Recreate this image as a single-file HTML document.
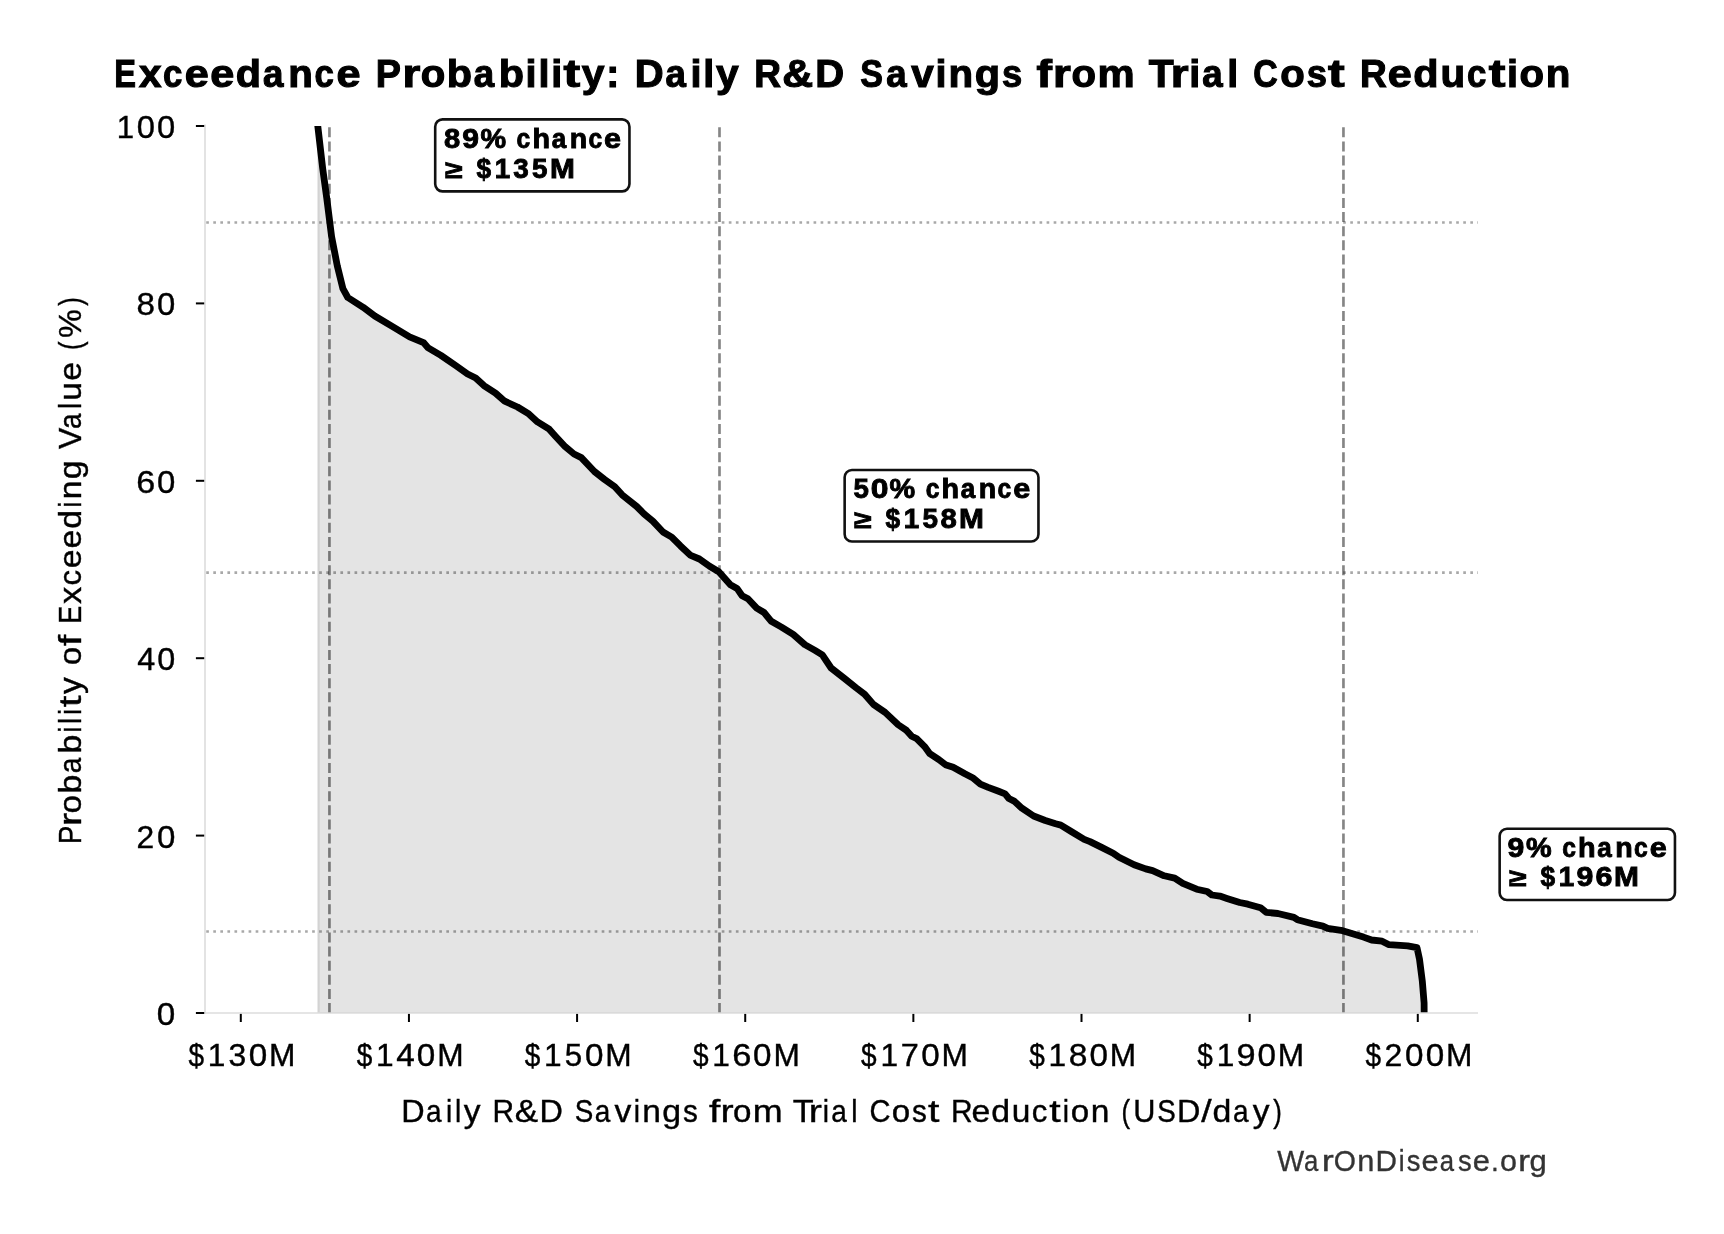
<!DOCTYPE html><html><head><meta charset="utf-8"><style>html,body{margin:0;padding:0;background:#fff;width:1724px;height:1234px;overflow:hidden}svg{display:block;will-change:transform}text{font-family:"Liberation Sans",sans-serif;white-space:pre}</style></head><body>
<svg width="1724" height="1234" viewBox="0 0 1724 1234">
<defs><clipPath id="ax"><rect x="205" y="126" width="1273" height="887"/></clipPath></defs>
<g clip-path="url(#ax)">
<path d="M318.6 1013 L318.6 124 L322.7 168.6 L326.7 197.8 L331.6 236.7 L337.3 265.9 L342.9 288.6 L347.8 297.5 L363.2 307.3 L374.8 316 L392.2 326.4 L409.6 336.8 L423.5 342.6 L428.2 347.9 L440.9 355.4 L456 365.8 L467.6 374 L475.7 378 L483.9 385.6 L495.5 393.1 L504.7 401.2 L517.5 407 L528.8 413.9 L537.5 421.9 L549.2 429.2 L555 435.7 L565.2 446.7 L574 454 L581.3 457.6 L594.4 471.5 L604.6 479.5 L614.8 486.8 L622.1 494.8 L636.7 506.5 L644 513.8 L652.8 521.1 L663 532 L671.7 537.1 L680.5 545.9 L690.7 555.4 L699.4 559 L709.6 566.3 L718.8 571.7 L730.4 584.8 L737 588.4 L742.1 595.7 L747.9 598.7 L756.7 608.1 L764 612.5 L771.3 621.3 L781.5 627.1 L793.2 634.4 L804.8 644.6 L815 650.4 L822.3 654.8 L831.1 668 L844.2 678.2 L855.9 687.6 L864.6 694.2 L873.4 704.4 L885.1 712.4 L898.2 724.8 L906.5 730.4 L911.7 736.2 L916.9 738.8 L924.6 746.6 L929.8 753.7 L938.9 759.6 L945.4 764.7 L953.2 767.3 L964.9 773.8 L972.6 777.7 L980.4 784.2 L988.2 787.4 L998.6 791.3 L1005.1 793.9 L1008.9 798.5 L1014.1 801.1 L1021.9 808.2 L1033.6 816 L1045.3 820.5 L1055.6 823.8 L1060.8 825.1 L1071.2 831.5 L1084.2 839.3 L1090 841.6 L1101.6 847.4 L1113.2 853.2 L1119 857.3 L1134.1 864.8 L1145.7 868.9 L1152.6 870.6 L1164.2 875.8 L1174.7 878.1 L1182.8 883.4 L1196.7 889.2 L1207.2 891.5 L1211.8 895 L1219.9 896.1 L1226.9 898.4 L1239.7 902.5 L1247.8 904.2 L1260.5 907.7 L1266.3 912.4 L1277.9 913.5 L1293.9 917.4 L1297.4 919.7 L1312.5 923.8 L1322.9 926.1 L1327.6 928.4 L1342.6 930.7 L1363.5 937.1 L1371.6 940 L1382.1 941.2 L1389 944.7 L1407.6 945.8 L1417 947.6 L1419.5 959.2 L1422.3 981.1 L1424.1 1003 L1424.2 1013Z" fill="#e4e4e4" stroke="#d3d3d3" stroke-width="2.2"/>
<line x1="205" y1="222.5" x2="1478" y2="222.5" stroke="rgba(0,0,0,0.34)" stroke-width="2.67" stroke-dasharray="2.67 4.392" stroke-dashoffset="5.85"/>
<line x1="205" y1="572.6" x2="1478" y2="572.6" stroke="rgba(0,0,0,0.34)" stroke-width="2.67" stroke-dasharray="2.67 4.392" stroke-dashoffset="5.85"/>
<line x1="205" y1="931.5" x2="1478" y2="931.5" stroke="rgba(0,0,0,0.34)" stroke-width="2.67" stroke-dasharray="2.67 4.392" stroke-dashoffset="5.85"/>
<line x1="329.45" y1="1013" x2="329.45" y2="126" stroke="rgba(0,0,0,0.48)" stroke-width="2.67" stroke-dasharray="9.95 4.175"/>
<line x1="719.5" y1="1013" x2="719.5" y2="126" stroke="rgba(0,0,0,0.48)" stroke-width="2.67" stroke-dasharray="9.95 4.175"/>
<line x1="1343.45" y1="1013" x2="1343.45" y2="126" stroke="rgba(0,0,0,0.48)" stroke-width="2.67" stroke-dasharray="9.95 4.175"/>
<path d="M316.9 118 L317.8 126.2 L322.7 168.6 L326.7 197.8 L331.6 236.7 L337.3 265.9 L342.9 288.6 L347.8 297.5 L363.2 307.3 L374.8 316 L392.2 326.4 L409.6 336.8 L423.5 342.6 L428.2 347.9 L440.9 355.4 L456 365.8 L467.6 374 L475.7 378 L483.9 385.6 L495.5 393.1 L504.7 401.2 L517.5 407 L528.8 413.9 L537.5 421.9 L549.2 429.2 L555 435.7 L565.2 446.7 L574 454 L581.3 457.6 L594.4 471.5 L604.6 479.5 L614.8 486.8 L622.1 494.8 L636.7 506.5 L644 513.8 L652.8 521.1 L663 532 L671.7 537.1 L680.5 545.9 L690.7 555.4 L699.4 559 L709.6 566.3 L718.8 571.7 L730.4 584.8 L737 588.4 L742.1 595.7 L747.9 598.7 L756.7 608.1 L764 612.5 L771.3 621.3 L781.5 627.1 L793.2 634.4 L804.8 644.6 L815 650.4 L822.3 654.8 L831.1 668 L844.2 678.2 L855.9 687.6 L864.6 694.2 L873.4 704.4 L885.1 712.4 L898.2 724.8 L906.5 730.4 L911.7 736.2 L916.9 738.8 L924.6 746.6 L929.8 753.7 L938.9 759.6 L945.4 764.7 L953.2 767.3 L964.9 773.8 L972.6 777.7 L980.4 784.2 L988.2 787.4 L998.6 791.3 L1005.1 793.9 L1008.9 798.5 L1014.1 801.1 L1021.9 808.2 L1033.6 816 L1045.3 820.5 L1055.6 823.8 L1060.8 825.1 L1071.2 831.5 L1084.2 839.3 L1090 841.6 L1101.6 847.4 L1113.2 853.2 L1119 857.3 L1134.1 864.8 L1145.7 868.9 L1152.6 870.6 L1164.2 875.8 L1174.7 878.1 L1182.8 883.4 L1196.7 889.2 L1207.2 891.5 L1211.8 895 L1219.9 896.1 L1226.9 898.4 L1239.7 902.5 L1247.8 904.2 L1260.5 907.7 L1266.3 912.4 L1277.9 913.5 L1293.9 917.4 L1297.4 919.7 L1312.5 923.8 L1322.9 926.1 L1327.6 928.4 L1342.6 930.7 L1363.5 937.1 L1371.6 940 L1382.1 941.2 L1389 944.7 L1407.6 945.8 L1417 947.6 L1419.5 959.2 L1422.3 981.1 L1424.1 1003 L1424.2 1020" fill="none" stroke="#000" stroke-width="6.8" stroke-linejoin="round" stroke-linecap="butt"/>
</g>
<line x1="205" y1="124.5" x2="205" y2="1013.8" stroke="#dcdcdc" stroke-width="1.6"/>
<line x1="204.2" y1="1013" x2="1478" y2="1013" stroke="#dcdcdc" stroke-width="1.6"/>
<line x1="195.9" y1="1013" x2="204.2" y2="1013" stroke="#000" stroke-width="2"/>
<line x1="195.9" y1="835.6" x2="204.2" y2="835.6" stroke="#000" stroke-width="2"/>
<line x1="195.9" y1="658.2" x2="204.2" y2="658.2" stroke="#000" stroke-width="2"/>
<line x1="195.9" y1="480.8" x2="204.2" y2="480.8" stroke="#000" stroke-width="2"/>
<line x1="195.9" y1="303.4" x2="204.2" y2="303.4" stroke="#000" stroke-width="2"/>
<line x1="195.9" y1="126" x2="204.2" y2="126" stroke="#000" stroke-width="2"/>
<line x1="240.8" y1="1013.9" x2="240.8" y2="1022" stroke="#000" stroke-width="2"/>
<line x1="408.94" y1="1013.9" x2="408.94" y2="1022" stroke="#000" stroke-width="2"/>
<line x1="577.08" y1="1013.9" x2="577.08" y2="1022" stroke="#000" stroke-width="2"/>
<line x1="745.22" y1="1013.9" x2="745.22" y2="1022" stroke="#000" stroke-width="2"/>
<line x1="913.36" y1="1013.9" x2="913.36" y2="1022" stroke="#000" stroke-width="2"/>
<line x1="1081.5" y1="1013.9" x2="1081.5" y2="1022" stroke="#000" stroke-width="2"/>
<line x1="1249.64" y1="1013.9" x2="1249.64" y2="1022" stroke="#000" stroke-width="2"/>
<line x1="1417.78" y1="1013.9" x2="1417.78" y2="1022" stroke="#000" stroke-width="2"/>
<rect x="435.2" y="119.4" width="194.25" height="71.95" rx="7.3" ry="7.3" fill="#fff" stroke="#111" stroke-width="2.6"/>
<rect x="844.65" y="470.05" width="193.8" height="71.5" rx="7.3" ry="7.3" fill="#fff" stroke="#111" stroke-width="2.6"/>
<rect x="1499.65" y="828.75" width="175.3" height="71.3" rx="7.3" ry="7.3" fill="#fff" stroke="#111" stroke-width="2.6"/>
<text transform="translate(114.37 86.95) scale(0.8439 1)" font-size="38.6" font-weight="bold" fill="#000" stroke="#000" stroke-width="1.1">E</text><text transform="translate(138.95 86.95) scale(1.0463 1)" font-size="38.6" font-weight="bold" fill="#000" stroke="#000" stroke-width="1.1">x</text><text transform="translate(163.03 86.95) scale(0.9007 1)" font-size="38.6" font-weight="bold" fill="#000" stroke="#000" stroke-width="1.1">c</text><text transform="translate(184.87 86.95) scale(1.1185 1)" font-size="38.6" font-weight="bold" fill="#000" stroke="#000" stroke-width="1.1">e</text><text transform="translate(210.24 86.95) scale(1.1185 1)" font-size="38.6" font-weight="bold" fill="#000" stroke="#000" stroke-width="1.1">e</text><text transform="translate(235.67 86.95) scale(1.0719 1)" font-size="38.6" font-weight="bold" fill="#000" stroke="#000" stroke-width="1.1">d</text><text transform="translate(262.98 86.95) scale(0.9518 1)" font-size="38.6" font-weight="bold" fill="#000" stroke="#000" stroke-width="1.1">a</text><text transform="translate(288.17 86.95) scale(1.0441 1)" font-size="38.6" font-weight="bold" fill="#000" stroke="#000" stroke-width="1.1">n</text><text transform="translate(314.56 86.95) scale(0.9007 1)" font-size="38.6" font-weight="bold" fill="#000" stroke="#000" stroke-width="1.1">c</text><text transform="translate(336.4 86.95) scale(1.1185 1)" font-size="38.6" font-weight="bold" fill="#000" stroke="#000" stroke-width="1.1">e</text><text transform="translate(375.78 86.95) scale(0.9770 1)" font-size="38.6" font-weight="bold" fill="#000" stroke="#000" stroke-width="1.1">P</text><text transform="translate(402.4 86.95) scale(1.1850 1)" font-size="38.6" font-weight="bold" fill="#000" stroke="#000" stroke-width="1.1">r</text><text transform="translate(420.76 86.95) scale(1.0397 1)" font-size="38.6" font-weight="bold" fill="#000" stroke="#000" stroke-width="1.1">o</text><text transform="translate(446.82 86.95) scale(1.0719 1)" font-size="38.6" font-weight="bold" fill="#000" stroke="#000" stroke-width="1.1">b</text><text transform="translate(473.71 86.95) scale(0.9518 1)" font-size="38.6" font-weight="bold" fill="#000" stroke="#000" stroke-width="1.1">a</text><text transform="translate(498.83 86.95) scale(1.0719 1)" font-size="38.6" font-weight="bold" fill="#000" stroke="#000" stroke-width="1.1">b</text><text transform="translate(525.56 86.95) scale(1.0266 1)" font-size="38.6" font-weight="bold" fill="#000" stroke="#000" stroke-width="1.1">i</text><text transform="translate(538.38 86.95) scale(1.0266 1)" font-size="38.6" font-weight="bold" fill="#000" stroke="#000" stroke-width="1.1">l</text><text transform="translate(551.2 86.95) scale(1.0266 1)" font-size="38.6" font-weight="bold" fill="#000" stroke="#000" stroke-width="1.1">i</text><text transform="translate(563.53 86.95) scale(1.2950 1)" font-size="38.6" font-weight="bold" fill="#000" stroke="#000" stroke-width="1.1">t</text><text transform="translate(581.66 86.95) scale(1.0566 1)" font-size="38.6" font-weight="bold" fill="#000" stroke="#000" stroke-width="1.1">y</text><text transform="translate(606.32 86.95) scale(1.0118 1)" font-size="38.6" font-weight="bold" fill="#000" stroke="#000" stroke-width="1.1">:</text><text transform="translate(634.63 86.95) scale(1.0373 1)" font-size="38.6" font-weight="bold" fill="#000" stroke="#000" stroke-width="1.1">D</text><text transform="translate(665.45 86.95) scale(0.9518 1)" font-size="38.6" font-weight="bold" fill="#000" stroke="#000" stroke-width="1.1">a</text><text transform="translate(690.53 86.95) scale(1.0266 1)" font-size="38.6" font-weight="bold" fill="#000" stroke="#000" stroke-width="1.1">i</text><text transform="translate(703.35 86.95) scale(1.0266 1)" font-size="38.6" font-weight="bold" fill="#000" stroke="#000" stroke-width="1.1">l</text><text transform="translate(715.93 86.95) scale(1.0566 1)" font-size="38.6" font-weight="bold" fill="#000" stroke="#000" stroke-width="1.1">y</text><text transform="translate(754.15 86.95) scale(0.9597 1)" font-size="38.6" font-weight="bold" fill="#000" stroke="#000" stroke-width="1.1">R</text><text transform="translate(782.35 86.95) scale(1.1091 1)" font-size="38.6" font-weight="bold" fill="#000" stroke="#000" stroke-width="1.1">&amp;</text><text transform="translate(815.36 86.95) scale(1.0373 1)" font-size="38.6" font-weight="bold" fill="#000" stroke="#000" stroke-width="1.1">D</text><text transform="translate(860.37 86.95) scale(0.8826 1)" font-size="38.6" font-weight="bold" fill="#000" stroke="#000" stroke-width="1.1">S</text><text transform="translate(886.13 86.95) scale(0.9518 1)" font-size="38.6" font-weight="bold" fill="#000" stroke="#000" stroke-width="1.1">a</text><text transform="translate(911.24 86.95) scale(1.0481 1)" font-size="38.6" font-weight="bold" fill="#000" stroke="#000" stroke-width="1.1">v</text><text transform="translate(935.59 86.95) scale(1.0266 1)" font-size="38.6" font-weight="bold" fill="#000" stroke="#000" stroke-width="1.1">i</text><text transform="translate(948.52 86.95) scale(1.0441 1)" font-size="38.6" font-weight="bold" fill="#000" stroke="#000" stroke-width="1.1">n</text><text transform="translate(974.64 86.95) scale(1.0740 1)" font-size="38.6" font-weight="bold" fill="#000" stroke="#000" stroke-width="1.1">g</text><text transform="translate(1002.08 86.95) scale(0.9420 1)" font-size="38.6" font-weight="bold" fill="#000" stroke="#000" stroke-width="1.1">s</text><text transform="translate(1036.62 86.95) scale(1.2051 1)" font-size="38.6" font-weight="bold" fill="#000" stroke="#000" stroke-width="1.1">f</text><text transform="translate(1053.1 86.95) scale(1.1850 1)" font-size="38.6" font-weight="bold" fill="#000" stroke="#000" stroke-width="1.1">r</text><text transform="translate(1071.46 86.95) scale(1.0397 1)" font-size="38.6" font-weight="bold" fill="#000" stroke="#000" stroke-width="1.1">o</text><text transform="translate(1097.46 86.95) scale(1.0824 1)" font-size="38.6" font-weight="bold" fill="#000" stroke="#000" stroke-width="1.1">m</text><text transform="translate(1148.83 86.95) scale(1.0570 1)" font-size="38.6" font-weight="bold" fill="#000" stroke="#000" stroke-width="1.1">T</text><text transform="translate(1170.63 86.95) scale(1.1850 1)" font-size="38.6" font-weight="bold" fill="#000" stroke="#000" stroke-width="1.1">r</text><text transform="translate(1189.32 86.95) scale(1.0266 1)" font-size="38.6" font-weight="bold" fill="#000" stroke="#000" stroke-width="1.1">i</text><text transform="translate(1202.29 86.95) scale(0.9518 1)" font-size="38.6" font-weight="bold" fill="#000" stroke="#000" stroke-width="1.1">a</text><text transform="translate(1227.37 86.95) scale(1.0266 1)" font-size="38.6" font-weight="bold" fill="#000" stroke="#000" stroke-width="1.1">l</text><text transform="translate(1253.32 86.95) scale(0.8753 1)" font-size="38.6" font-weight="bold" fill="#000" stroke="#000" stroke-width="1.1">C</text><text transform="translate(1280.32 86.95) scale(1.0397 1)" font-size="38.6" font-weight="bold" fill="#000" stroke="#000" stroke-width="1.1">o</text><text transform="translate(1306.64 86.95) scale(0.9420 1)" font-size="38.6" font-weight="bold" fill="#000" stroke="#000" stroke-width="1.1">s</text><text transform="translate(1328.12 86.95) scale(1.2950 1)" font-size="38.6" font-weight="bold" fill="#000" stroke="#000" stroke-width="1.1">t</text><text transform="translate(1360.09 86.95) scale(0.9597 1)" font-size="38.6" font-weight="bold" fill="#000" stroke="#000" stroke-width="1.1">R</text><text transform="translate(1387.85 86.95) scale(1.1185 1)" font-size="38.6" font-weight="bold" fill="#000" stroke="#000" stroke-width="1.1">e</text><text transform="translate(1413.28 86.95) scale(1.0719 1)" font-size="38.6" font-weight="bold" fill="#000" stroke="#000" stroke-width="1.1">d</text><text transform="translate(1440.49 86.95) scale(1.0441 1)" font-size="38.6" font-weight="bold" fill="#000" stroke="#000" stroke-width="1.1">u</text><text transform="translate(1466.94 86.95) scale(0.9007 1)" font-size="38.6" font-weight="bold" fill="#000" stroke="#000" stroke-width="1.1">c</text><text transform="translate(1488.74 86.95) scale(1.2950 1)" font-size="38.6" font-weight="bold" fill="#000" stroke="#000" stroke-width="1.1">t</text><text transform="translate(1507.11 86.95) scale(1.0266 1)" font-size="38.6" font-weight="bold" fill="#000" stroke="#000" stroke-width="1.1">i</text><text transform="translate(1519.59 86.95) scale(1.0397 1)" font-size="38.6" font-weight="bold" fill="#000" stroke="#000" stroke-width="1.1">o</text><text transform="translate(1545.73 86.95) scale(1.0441 1)" font-size="38.6" font-weight="bold" fill="#000" stroke="#000" stroke-width="1.1">n</text>
<text transform="translate(156.8 1025) scale(1.0362 1)" font-size="32.1" font-weight="normal" fill="#000" stroke="#000" stroke-width="0.4">0</text>
<text transform="translate(136.4 847.6) scale(0.9898 1)" font-size="32.1" font-weight="normal" fill="#000" stroke="#000" stroke-width="0.4">2</text><text transform="translate(156.92 847.6) scale(1.0291 1)" font-size="32.1" font-weight="normal" fill="#000" stroke="#000" stroke-width="0.4">0</text>
<text transform="translate(137.26 670.2) scale(1.0083 1)" font-size="32.1" font-weight="normal" fill="#000" stroke="#000" stroke-width="0.4">4</text><text transform="translate(157.29 670.2) scale(1.0069 1)" font-size="32.1" font-weight="normal" fill="#000" stroke="#000" stroke-width="0.4">0</text>
<text transform="translate(136.27 492.8) scale(1.0618 1)" font-size="32.1" font-weight="normal" fill="#000" stroke="#000" stroke-width="0.4">6</text><text transform="translate(156.97 492.8) scale(1.0260 1)" font-size="32.1" font-weight="normal" fill="#000" stroke="#000" stroke-width="0.4">0</text>
<text transform="translate(136.56 315.4) scale(1.0350 1)" font-size="32.1" font-weight="normal" fill="#000" stroke="#000" stroke-width="0.4">8</text><text transform="translate(157 315.4) scale(1.0242 1)" font-size="32.1" font-weight="normal" fill="#000" stroke="#000" stroke-width="0.4">0</text>
<text transform="translate(116.83 138) scale(0.9705 1)" font-size="32.1" font-weight="normal" fill="#000" stroke="#000" stroke-width="0.4">1</text><text transform="translate(136.79 138) scale(1.0203 1)" font-size="32.1" font-weight="normal" fill="#000" stroke="#000" stroke-width="0.4">0</text><text transform="translate(157.06 138) scale(1.0203 1)" font-size="32.1" font-weight="normal" fill="#000" stroke="#000" stroke-width="0.4">0</text>
<text transform="translate(188.5 1065.6) scale(0.8718 1)" font-size="32.1" font-weight="normal" fill="#000" stroke="#000" stroke-width="0.4">$</text><text transform="translate(207.84 1065.6) scale(0.9858 1)" font-size="32.1" font-weight="normal" fill="#000" stroke="#000" stroke-width="0.4">1</text><text transform="translate(228.53 1065.6) scale(0.9940 1)" font-size="32.1" font-weight="normal" fill="#000" stroke="#000" stroke-width="0.4">3</text><text transform="translate(248.7 1065.6) scale(1.0363 1)" font-size="32.1" font-weight="normal" fill="#000" stroke="#000" stroke-width="0.4">0</text><text transform="translate(269.02 1065.6) scale(0.9863 1)" font-size="32.1" font-weight="normal" fill="#000" stroke="#000" stroke-width="0.4">M</text>
<text transform="translate(356.64 1065.6) scale(0.8718 1)" font-size="32.1" font-weight="normal" fill="#000" stroke="#000" stroke-width="0.4">$</text><text transform="translate(375.98 1065.6) scale(0.9858 1)" font-size="32.1" font-weight="normal" fill="#000" stroke="#000" stroke-width="0.4">1</text><text transform="translate(396.24 1065.6) scale(1.0378 1)" font-size="32.1" font-weight="normal" fill="#000" stroke="#000" stroke-width="0.4">4</text><text transform="translate(416.84 1065.6) scale(1.0363 1)" font-size="32.1" font-weight="normal" fill="#000" stroke="#000" stroke-width="0.4">0</text><text transform="translate(437.16 1065.6) scale(0.9863 1)" font-size="32.1" font-weight="normal" fill="#000" stroke="#000" stroke-width="0.4">M</text>
<text transform="translate(524.78 1065.6) scale(0.8718 1)" font-size="32.1" font-weight="normal" fill="#000" stroke="#000" stroke-width="0.4">$</text><text transform="translate(544.12 1065.6) scale(0.9858 1)" font-size="32.1" font-weight="normal" fill="#000" stroke="#000" stroke-width="0.4">1</text><text transform="translate(564.8 1065.6) scale(0.9764 1)" font-size="32.1" font-weight="normal" fill="#000" stroke="#000" stroke-width="0.4">5</text><text transform="translate(584.98 1065.6) scale(1.0363 1)" font-size="32.1" font-weight="normal" fill="#000" stroke="#000" stroke-width="0.4">0</text><text transform="translate(605.3 1065.6) scale(0.9863 1)" font-size="32.1" font-weight="normal" fill="#000" stroke="#000" stroke-width="0.4">M</text>
<text transform="translate(692.92 1065.6) scale(0.8718 1)" font-size="32.1" font-weight="normal" fill="#000" stroke="#000" stroke-width="0.4">$</text><text transform="translate(712.26 1065.6) scale(0.9858 1)" font-size="32.1" font-weight="normal" fill="#000" stroke="#000" stroke-width="0.4">1</text><text transform="translate(732.21 1065.6) scale(1.0725 1)" font-size="32.1" font-weight="normal" fill="#000" stroke="#000" stroke-width="0.4">6</text><text transform="translate(753.12 1065.6) scale(1.0363 1)" font-size="32.1" font-weight="normal" fill="#000" stroke="#000" stroke-width="0.4">0</text><text transform="translate(773.44 1065.6) scale(0.9863 1)" font-size="32.1" font-weight="normal" fill="#000" stroke="#000" stroke-width="0.4">M</text>
<text transform="translate(861.06 1065.6) scale(0.8718 1)" font-size="32.1" font-weight="normal" fill="#000" stroke="#000" stroke-width="0.4">$</text><text transform="translate(880.4 1065.6) scale(0.9858 1)" font-size="32.1" font-weight="normal" fill="#000" stroke="#000" stroke-width="0.4">1</text><text transform="translate(900.83 1065.6) scale(1.0118 1)" font-size="32.1" font-weight="normal" fill="#000" stroke="#000" stroke-width="0.4">7</text><text transform="translate(921.26 1065.6) scale(1.0363 1)" font-size="32.1" font-weight="normal" fill="#000" stroke="#000" stroke-width="0.4">0</text><text transform="translate(941.58 1065.6) scale(0.9863 1)" font-size="32.1" font-weight="normal" fill="#000" stroke="#000" stroke-width="0.4">M</text>
<text transform="translate(1029.2 1065.6) scale(0.8718 1)" font-size="32.1" font-weight="normal" fill="#000" stroke="#000" stroke-width="0.4">$</text><text transform="translate(1048.54 1065.6) scale(0.9858 1)" font-size="32.1" font-weight="normal" fill="#000" stroke="#000" stroke-width="0.4">1</text><text transform="translate(1068.72 1065.6) scale(1.0473 1)" font-size="32.1" font-weight="normal" fill="#000" stroke="#000" stroke-width="0.4">8</text><text transform="translate(1089.4 1065.6) scale(1.0363 1)" font-size="32.1" font-weight="normal" fill="#000" stroke="#000" stroke-width="0.4">0</text><text transform="translate(1109.72 1065.6) scale(0.9863 1)" font-size="32.1" font-weight="normal" fill="#000" stroke="#000" stroke-width="0.4">M</text>
<text transform="translate(1197.34 1065.6) scale(0.8718 1)" font-size="32.1" font-weight="normal" fill="#000" stroke="#000" stroke-width="0.4">$</text><text transform="translate(1216.68 1065.6) scale(0.9858 1)" font-size="32.1" font-weight="normal" fill="#000" stroke="#000" stroke-width="0.4">1</text><text transform="translate(1236.55 1065.6) scale(1.0703 1)" font-size="32.1" font-weight="normal" fill="#000" stroke="#000" stroke-width="0.4">9</text><text transform="translate(1257.54 1065.6) scale(1.0363 1)" font-size="32.1" font-weight="normal" fill="#000" stroke="#000" stroke-width="0.4">0</text><text transform="translate(1277.86 1065.6) scale(0.9863 1)" font-size="32.1" font-weight="normal" fill="#000" stroke="#000" stroke-width="0.4">M</text>
<text transform="translate(1365.48 1065.6) scale(0.8718 1)" font-size="32.1" font-weight="normal" fill="#000" stroke="#000" stroke-width="0.4">$</text><text transform="translate(1384.44 1065.6) scale(0.9967 1)" font-size="32.1" font-weight="normal" fill="#000" stroke="#000" stroke-width="0.4">2</text><text transform="translate(1405.09 1065.6) scale(1.0363 1)" font-size="32.1" font-weight="normal" fill="#000" stroke="#000" stroke-width="0.4">0</text><text transform="translate(1425.68 1065.6) scale(1.0363 1)" font-size="32.1" font-weight="normal" fill="#000" stroke="#000" stroke-width="0.4">0</text><text transform="translate(1446 1065.6) scale(0.9863 1)" font-size="32.1" font-weight="normal" fill="#000" stroke="#000" stroke-width="0.4">M</text>
<text transform="translate(401.24 1122.2) scale(1.0099 1)" font-size="32.1" font-weight="normal" fill="#000" stroke="#000" stroke-width="0.4">D</text><text transform="translate(426.12 1122.2) scale(0.8718 1)" font-size="32.1" font-weight="normal" fill="#000" stroke="#000" stroke-width="0.4">a</text><text transform="translate(446.12 1122.2) scale(0.8768 1)" font-size="32.1" font-weight="normal" fill="#000" stroke="#000" stroke-width="0.4">i</text><text transform="translate(455 1122.2) scale(0.8768 1)" font-size="32.1" font-weight="normal" fill="#000" stroke="#000" stroke-width="0.4">l</text><text transform="translate(463.64 1122.2) scale(1.0449 1)" font-size="32.1" font-weight="normal" fill="#000" stroke="#000" stroke-width="0.4">y</text><text transform="translate(492.55 1122.2) scale(0.9320 1)" font-size="32.1" font-weight="normal" fill="#000" stroke="#000" stroke-width="0.4">R</text><text transform="translate(514.87 1122.2) scale(1.0891 1)" font-size="32.1" font-weight="normal" fill="#000" stroke="#000" stroke-width="0.4">&amp;</text><text transform="translate(539.51 1122.2) scale(1.0099 1)" font-size="32.1" font-weight="normal" fill="#000" stroke="#000" stroke-width="0.4">D</text><text transform="translate(574.67 1122.2) scale(0.8666 1)" font-size="32.1" font-weight="normal" fill="#000" stroke="#000" stroke-width="0.4">S</text><text transform="translate(594.86 1122.2) scale(0.8718 1)" font-size="32.1" font-weight="normal" fill="#000" stroke="#000" stroke-width="0.4">a</text><text transform="translate(614.57 1122.2) scale(1.0501 1)" font-size="32.1" font-weight="normal" fill="#000" stroke="#000" stroke-width="0.4">v</text><text transform="translate(633.79 1122.2) scale(0.8768 1)" font-size="32.1" font-weight="normal" fill="#000" stroke="#000" stroke-width="0.4">i</text><text transform="translate(642.22 1122.2) scale(1.0450 1)" font-size="32.1" font-weight="normal" fill="#000" stroke="#000" stroke-width="0.4">n</text><text transform="translate(662.16 1122.2) scale(1.0553 1)" font-size="32.1" font-weight="normal" fill="#000" stroke="#000" stroke-width="0.4">g</text><text transform="translate(683.03 1122.2) scale(0.9266 1)" font-size="32.1" font-weight="normal" fill="#000" stroke="#000" stroke-width="0.4">s</text><text transform="translate(709.12 1122.2) scale(1.2614 1)" font-size="32.1" font-weight="normal" fill="#000" stroke="#000" stroke-width="0.4">f</text><text transform="translate(720.51 1122.2) scale(1.2269 1)" font-size="32.1" font-weight="normal" fill="#000" stroke="#000" stroke-width="0.4">r</text><text transform="translate(733.04 1122.2) scale(1.0329 1)" font-size="32.1" font-weight="normal" fill="#000" stroke="#000" stroke-width="0.4">o</text><text transform="translate(752.76 1122.2) scale(1.1175 1)" font-size="32.1" font-weight="normal" fill="#000" stroke="#000" stroke-width="0.4">m</text><text transform="translate(792.7 1122.2) scale(1.0648 1)" font-size="32.1" font-weight="normal" fill="#000" stroke="#000" stroke-width="0.4">T</text><text transform="translate(808.69 1122.2) scale(1.2269 1)" font-size="32.1" font-weight="normal" fill="#000" stroke="#000" stroke-width="0.4">r</text><text transform="translate(822.68 1122.2) scale(0.8768 1)" font-size="32.1" font-weight="normal" fill="#000" stroke="#000" stroke-width="0.4">i</text><text transform="translate(831.17 1122.2) scale(0.8718 1)" font-size="32.1" font-weight="normal" fill="#000" stroke="#000" stroke-width="0.4">a</text><text transform="translate(851.15 1122.2) scale(0.8768 1)" font-size="32.1" font-weight="normal" fill="#000" stroke="#000" stroke-width="0.4">l</text><text transform="translate(869.41 1122.2) scale(0.9053 1)" font-size="32.1" font-weight="normal" fill="#000" stroke="#000" stroke-width="0.4">C</text><text transform="translate(891.8 1122.2) scale(1.0329 1)" font-size="32.1" font-weight="normal" fill="#000" stroke="#000" stroke-width="0.4">o</text><text transform="translate(911.9 1122.2) scale(0.9266 1)" font-size="32.1" font-weight="normal" fill="#000" stroke="#000" stroke-width="0.4">s</text><text transform="translate(927.89 1122.2) scale(1.2830 1)" font-size="32.1" font-weight="normal" fill="#000" stroke="#000" stroke-width="0.4">t</text><text transform="translate(951.05 1122.2) scale(0.9320 1)" font-size="32.1" font-weight="normal" fill="#000" stroke="#000" stroke-width="0.4">R</text><text transform="translate(971.49 1122.2) scale(1.0497 1)" font-size="32.1" font-weight="normal" fill="#000" stroke="#000" stroke-width="0.4">e</text><text transform="translate(991.18 1122.2) scale(1.0553 1)" font-size="32.1" font-weight="normal" fill="#000" stroke="#000" stroke-width="0.4">d</text><text transform="translate(1011.68 1122.2) scale(1.0450 1)" font-size="32.1" font-weight="normal" fill="#000" stroke="#000" stroke-width="0.4">u</text><text transform="translate(1031.85 1122.2) scale(0.9709 1)" font-size="32.1" font-weight="normal" fill="#000" stroke="#000" stroke-width="0.4">c</text><text transform="translate(1049.23 1122.2) scale(1.2830 1)" font-size="32.1" font-weight="normal" fill="#000" stroke="#000" stroke-width="0.4">t</text><text transform="translate(1062.67 1122.2) scale(0.8768 1)" font-size="32.1" font-weight="normal" fill="#000" stroke="#000" stroke-width="0.4">i</text><text transform="translate(1070.8 1122.2) scale(1.0329 1)" font-size="32.1" font-weight="normal" fill="#000" stroke="#000" stroke-width="0.4">o</text><text transform="translate(1090.67 1122.2) scale(1.0450 1)" font-size="32.1" font-weight="normal" fill="#000" stroke="#000" stroke-width="0.4">n</text><text transform="translate(1121.57 1122.2) scale(0.8000 1)" font-size="32.1" font-weight="normal" fill="#000" stroke="#000" stroke-width="0.4">(</text><text transform="translate(1133.32 1122.2) scale(0.9574 1)" font-size="32.1" font-weight="normal" fill="#000" stroke="#000" stroke-width="0.4">U</text><text transform="translate(1157.17 1122.2) scale(0.8666 1)" font-size="32.1" font-weight="normal" fill="#000" stroke="#000" stroke-width="0.4">S</text><text transform="translate(1177.11 1122.2) scale(1.0099 1)" font-size="32.1" font-weight="normal" fill="#000" stroke="#000" stroke-width="0.4">D</text><text transform="translate(1201.26 1122.2) scale(1.1635 1)" font-size="32.1" font-weight="normal" fill="#000" stroke="#000" stroke-width="0.4">/</text><text transform="translate(1212.38 1122.2) scale(1.0553 1)" font-size="32.1" font-weight="normal" fill="#000" stroke="#000" stroke-width="0.4">d</text><text transform="translate(1233.07 1122.2) scale(0.8718 1)" font-size="32.1" font-weight="normal" fill="#000" stroke="#000" stroke-width="0.4">a</text><text transform="translate(1252.81 1122.2) scale(1.0449 1)" font-size="32.1" font-weight="normal" fill="#000" stroke="#000" stroke-width="0.4">y</text><text transform="translate(1273.26 1122.2) scale(0.8000 1)" font-size="32.1" font-weight="normal" fill="#000" stroke="#000" stroke-width="0.4">)</text>
<g transform="translate(80.8 842) rotate(-90)"><text transform="translate(-2.06 -0.2) scale(0.8581 1)" font-size="32.1" font-weight="normal" fill="#000" stroke="#000" stroke-width="0.4">P</text><text transform="translate(16.08 -0.2) scale(1.2272 1)" font-size="32.1" font-weight="normal" fill="#000" stroke="#000" stroke-width="0.4">r</text><text transform="translate(28.61 -0.2) scale(1.0332 1)" font-size="32.1" font-weight="normal" fill="#000" stroke="#000" stroke-width="0.4">o</text><text transform="translate(48.53 -0.2) scale(1.0566 1)" font-size="32.1" font-weight="normal" fill="#000" stroke="#000" stroke-width="0.4">b</text><text transform="translate(68.85 -0.2) scale(0.8720 1)" font-size="32.1" font-weight="normal" fill="#000" stroke="#000" stroke-width="0.4">a</text><text transform="translate(88.45 -0.2) scale(1.0566 1)" font-size="32.1" font-weight="normal" fill="#000" stroke="#000" stroke-width="0.4">b</text><text transform="translate(109.17 -0.2) scale(0.8771 1)" font-size="32.1" font-weight="normal" fill="#000" stroke="#000" stroke-width="0.4">i</text><text transform="translate(118.04 -0.2) scale(0.8771 1)" font-size="32.1" font-weight="normal" fill="#000" stroke="#000" stroke-width="0.4">l</text><text transform="translate(126.95 -0.2) scale(0.8771 1)" font-size="32.1" font-weight="normal" fill="#000" stroke="#000" stroke-width="0.4">i</text><text transform="translate(134.94 -0.2) scale(1.2833 1)" font-size="32.1" font-weight="normal" fill="#000" stroke="#000" stroke-width="0.4">t</text><text transform="translate(148.12 -0.2) scale(1.0452 1)" font-size="32.1" font-weight="normal" fill="#000" stroke="#000" stroke-width="0.4">y</text><text transform="translate(176.72 -0.2) scale(1.0332 1)" font-size="32.1" font-weight="normal" fill="#000" stroke="#000" stroke-width="0.4">o</text><text transform="translate(196.09 -0.2) scale(1.2617 1)" font-size="32.1" font-weight="normal" fill="#000" stroke="#000" stroke-width="0.4">f</text><text transform="translate(218.29 -0.2) scale(0.8408 1)" font-size="32.1" font-weight="normal" fill="#000" stroke="#000" stroke-width="0.4">E</text><text transform="translate(238.11 -0.2) scale(1.0796 1)" font-size="32.1" font-weight="normal" fill="#000" stroke="#000" stroke-width="0.4">x</text><text transform="translate(256.39 -0.2) scale(0.9712 1)" font-size="32.1" font-weight="normal" fill="#000" stroke="#000" stroke-width="0.4">c</text><text transform="translate(273.87 -0.2) scale(1.0500 1)" font-size="32.1" font-weight="normal" fill="#000" stroke="#000" stroke-width="0.4">e</text><text transform="translate(293.55 -0.2) scale(1.0500 1)" font-size="32.1" font-weight="normal" fill="#000" stroke="#000" stroke-width="0.4">e</text><text transform="translate(313.25 -0.2) scale(1.0556 1)" font-size="32.1" font-weight="normal" fill="#000" stroke="#000" stroke-width="0.4">d</text><text transform="translate(334.34 -0.2) scale(0.8771 1)" font-size="32.1" font-weight="normal" fill="#000" stroke="#000" stroke-width="0.4">i</text><text transform="translate(342.78 -0.2) scale(1.0453 1)" font-size="32.1" font-weight="normal" fill="#000" stroke="#000" stroke-width="0.4">n</text><text transform="translate(362.72 -0.2) scale(1.0556 1)" font-size="32.1" font-weight="normal" fill="#000" stroke="#000" stroke-width="0.4">g</text><text transform="translate(392.97 -0.2) scale(0.9926 1)" font-size="32.1" font-weight="normal" fill="#000" stroke="#000" stroke-width="0.4">V</text><text transform="translate(412.99 -0.2) scale(0.8720 1)" font-size="32.1" font-weight="normal" fill="#000" stroke="#000" stroke-width="0.4">a</text><text transform="translate(432.98 -0.2) scale(0.8771 1)" font-size="32.1" font-weight="normal" fill="#000" stroke="#000" stroke-width="0.4">l</text><text transform="translate(441.29 -0.2) scale(1.0453 1)" font-size="32.1" font-weight="normal" fill="#000" stroke="#000" stroke-width="0.4">u</text><text transform="translate(461.36 -0.2) scale(1.0500 1)" font-size="32.1" font-weight="normal" fill="#000" stroke="#000" stroke-width="0.4">e</text><text transform="translate(492.02 -0.2) scale(0.8000 1)" font-size="32.1" font-weight="normal" fill="#000" stroke="#000" stroke-width="0.4">(</text><text transform="translate(503.98 -0.2) scale(1.0082 1)" font-size="32.1" font-weight="normal" fill="#000" stroke="#000" stroke-width="0.4">%</text><text transform="translate(536.16 -0.2) scale(0.8000 1)" font-size="32.1" font-weight="normal" fill="#000" stroke="#000" stroke-width="0.4">)</text></g>
<text transform="translate(1277.15 1171.1) scale(0.9689 1)" font-size="29.45" font-weight="normal" fill="#333" stroke="#333" stroke-width="0.35">W</text><text transform="translate(1304.09 1171.1) scale(0.8722 1)" font-size="29.45" font-weight="normal" fill="#333" stroke="#333" stroke-width="0.35">a</text><text transform="translate(1321.65 1171.1) scale(1.2281 1)" font-size="29.45" font-weight="normal" fill="#333" stroke="#333" stroke-width="0.35">r</text><text transform="translate(1333.74 1171.1) scale(0.9668 1)" font-size="29.45" font-weight="normal" fill="#333" stroke="#333" stroke-width="0.35">O</text><text transform="translate(1357.14 1171.1) scale(1.0455 1)" font-size="29.45" font-weight="normal" fill="#333" stroke="#333" stroke-width="0.35">n</text><text transform="translate(1375.54 1171.1) scale(1.0100 1)" font-size="29.45" font-weight="normal" fill="#333" stroke="#333" stroke-width="0.35">D</text><text transform="translate(1398.71 1171.1) scale(0.8825 1)" font-size="29.45" font-weight="normal" fill="#333" stroke="#333" stroke-width="0.35">i</text><text transform="translate(1406.66 1171.1) scale(0.9271 1)" font-size="29.45" font-weight="normal" fill="#333" stroke="#333" stroke-width="0.35">s</text><text transform="translate(1421.41 1171.1) scale(1.0501 1)" font-size="29.45" font-weight="normal" fill="#333" stroke="#333" stroke-width="0.35">e</text><text transform="translate(1439.81 1171.1) scale(0.8722 1)" font-size="29.45" font-weight="normal" fill="#333" stroke="#333" stroke-width="0.35">a</text><text transform="translate(1457.94 1171.1) scale(0.9271 1)" font-size="29.45" font-weight="normal" fill="#333" stroke="#333" stroke-width="0.35">s</text><text transform="translate(1472.69 1171.1) scale(1.0501 1)" font-size="29.45" font-weight="normal" fill="#333" stroke="#333" stroke-width="0.35">e</text><text transform="translate(1491 1171.1) scale(0.9525 1)" font-size="29.45" font-weight="normal" fill="#333" stroke="#333" stroke-width="0.35">.</text><text transform="translate(1500.09 1171.1) scale(1.0333 1)" font-size="29.45" font-weight="normal" fill="#333" stroke="#333" stroke-width="0.35">o</text><text transform="translate(1517.95 1171.1) scale(1.2281 1)" font-size="29.45" font-weight="normal" fill="#333" stroke="#333" stroke-width="0.35">r</text><text transform="translate(1529.54 1171.1) scale(1.0557 1)" font-size="29.45" font-weight="normal" fill="#333" stroke="#333" stroke-width="0.35">g</text>
<text transform="translate(443.92 147.75) scale(1.0642 1)" font-size="27.4" font-weight="bold" fill="#000" stroke="#000" stroke-width="0.9">8</text><text transform="translate(462.14 147.75) scale(1.0993 1)" font-size="27.4" font-weight="bold" fill="#000" stroke="#000" stroke-width="0.9">9</text><text transform="translate(480.52 147.75) scale(1.0518 1)" font-size="27.4" font-weight="bold" fill="#000" stroke="#000" stroke-width="0.9">%</text><text transform="translate(516.62 147.75) scale(0.8975 1)" font-size="27.4" font-weight="bold" fill="#000" stroke="#000" stroke-width="0.9">c</text><text transform="translate(532.49 147.75) scale(1.0500 1)" font-size="27.4" font-weight="bold" fill="#000" stroke="#000" stroke-width="0.9">h</text><text transform="translate(551.66 147.75) scale(0.9496 1)" font-size="27.4" font-weight="bold" fill="#000" stroke="#000" stroke-width="0.9">a</text><text transform="translate(569.65 147.75) scale(1.0416 1)" font-size="27.4" font-weight="bold" fill="#000" stroke="#000" stroke-width="0.9">n</text><text transform="translate(588.49 147.75) scale(0.8975 1)" font-size="27.4" font-weight="bold" fill="#000" stroke="#000" stroke-width="0.9">c</text><text transform="translate(604.08 147.75) scale(1.1164 1)" font-size="27.4" font-weight="bold" fill="#000" stroke="#000" stroke-width="0.9">e</text>
<text transform="translate(445.09 177.75) scale(1.2900 1)" font-size="24.6" font-weight="bold" fill="#000" stroke="#000" stroke-width="0.9">≥</text><text transform="translate(476.59 177.75) scale(0.9562 1)" font-size="27.4" font-weight="bold" fill="#000" stroke="#000" stroke-width="0.9">$</text><text transform="translate(494.79 177.75) scale(1.0116 1)" font-size="27.4" font-weight="bold" fill="#000" stroke="#000" stroke-width="0.9">1</text><text transform="translate(513.33 177.75) scale(1.0163 1)" font-size="27.4" font-weight="bold" fill="#000" stroke="#000" stroke-width="0.9">3</text><text transform="translate(532.07 177.75) scale(1.0143 1)" font-size="27.4" font-weight="bold" fill="#000" stroke="#000" stroke-width="0.9">5</text><text transform="translate(549.99 177.75) scale(1.0890 1)" font-size="27.4" font-weight="bold" fill="#000" stroke="#000" stroke-width="0.9">M</text>
<text transform="translate(853.4 497.75) scale(1.0098 1)" font-size="27.4" font-weight="bold" fill="#000" stroke="#000" stroke-width="0.9">5</text><text transform="translate(870.8 497.75) scale(1.1616 1)" font-size="27.4" font-weight="bold" fill="#000" stroke="#000" stroke-width="0.9">0</text><text transform="translate(889.52 497.75) scale(1.0526 1)" font-size="27.4" font-weight="bold" fill="#000" stroke="#000" stroke-width="0.9">%</text><text transform="translate(925.64 497.75) scale(0.8982 1)" font-size="27.4" font-weight="bold" fill="#000" stroke="#000" stroke-width="0.9">c</text><text transform="translate(941.53 497.75) scale(1.0509 1)" font-size="27.4" font-weight="bold" fill="#000" stroke="#000" stroke-width="0.9">h</text><text transform="translate(960.71 497.75) scale(0.9503 1)" font-size="27.4" font-weight="bold" fill="#000" stroke="#000" stroke-width="0.9">a</text><text transform="translate(978.71 497.75) scale(1.0424 1)" font-size="27.4" font-weight="bold" fill="#000" stroke="#000" stroke-width="0.9">n</text><text transform="translate(997.56 497.75) scale(0.8982 1)" font-size="27.4" font-weight="bold" fill="#000" stroke="#000" stroke-width="0.9">c</text><text transform="translate(1013.17 497.75) scale(1.1173 1)" font-size="27.4" font-weight="bold" fill="#000" stroke="#000" stroke-width="0.9">e</text>
<text transform="translate(854.09 527.75) scale(1.2911 1)" font-size="24.6" font-weight="bold" fill="#000" stroke="#000" stroke-width="0.9">≥</text><text transform="translate(885.61 527.75) scale(0.9570 1)" font-size="27.4" font-weight="bold" fill="#000" stroke="#000" stroke-width="0.9">$</text><text transform="translate(903.83 527.75) scale(1.0124 1)" font-size="27.4" font-weight="bold" fill="#000" stroke="#000" stroke-width="0.9">1</text><text transform="translate(922.45 527.75) scale(1.0151 1)" font-size="27.4" font-weight="bold" fill="#000" stroke="#000" stroke-width="0.9">5</text><text transform="translate(940.62 527.75) scale(1.0707 1)" font-size="27.4" font-weight="bold" fill="#000" stroke="#000" stroke-width="0.9">8</text><text transform="translate(959.07 527.75) scale(1.0899 1)" font-size="27.4" font-weight="bold" fill="#000" stroke="#000" stroke-width="0.9">M</text>
<text transform="translate(1507.6 856.85) scale(1.1003 1)" font-size="27.4" font-weight="bold" fill="#000" stroke="#000" stroke-width="0.9">9</text><text transform="translate(1526.01 856.85) scale(1.0527 1)" font-size="27.4" font-weight="bold" fill="#000" stroke="#000" stroke-width="0.9">%</text><text transform="translate(1562.13 856.85) scale(0.8983 1)" font-size="27.4" font-weight="bold" fill="#000" stroke="#000" stroke-width="0.9">c</text><text transform="translate(1578.02 856.85) scale(1.0510 1)" font-size="27.4" font-weight="bold" fill="#000" stroke="#000" stroke-width="0.9">h</text><text transform="translate(1597.2 856.85) scale(0.9504 1)" font-size="27.4" font-weight="bold" fill="#000" stroke="#000" stroke-width="0.9">a</text><text transform="translate(1615.21 856.85) scale(1.0425 1)" font-size="27.4" font-weight="bold" fill="#000" stroke="#000" stroke-width="0.9">n</text><text transform="translate(1634.06 856.85) scale(0.8983 1)" font-size="27.4" font-weight="bold" fill="#000" stroke="#000" stroke-width="0.9">c</text><text transform="translate(1649.67 856.85) scale(1.1174 1)" font-size="27.4" font-weight="bold" fill="#000" stroke="#000" stroke-width="0.9">e</text>
<text transform="translate(1509.09 886.45) scale(1.2911 1)" font-size="24.6" font-weight="bold" fill="#000" stroke="#000" stroke-width="0.9">≥</text><text transform="translate(1540.61 886.45) scale(0.9570 1)" font-size="27.4" font-weight="bold" fill="#000" stroke="#000" stroke-width="0.9">$</text><text transform="translate(1558.83 886.45) scale(1.0124 1)" font-size="27.4" font-weight="bold" fill="#000" stroke="#000" stroke-width="0.9">1</text><text transform="translate(1576.57 886.45) scale(1.1060 1)" font-size="27.4" font-weight="bold" fill="#000" stroke="#000" stroke-width="0.9">9</text><text transform="translate(1595.47 886.45) scale(1.1082 1)" font-size="27.4" font-weight="bold" fill="#000" stroke="#000" stroke-width="0.9">6</text><text transform="translate(1614.07 886.45) scale(1.0899 1)" font-size="27.4" font-weight="bold" fill="#000" stroke="#000" stroke-width="0.9">M</text>
</svg></body></html>
